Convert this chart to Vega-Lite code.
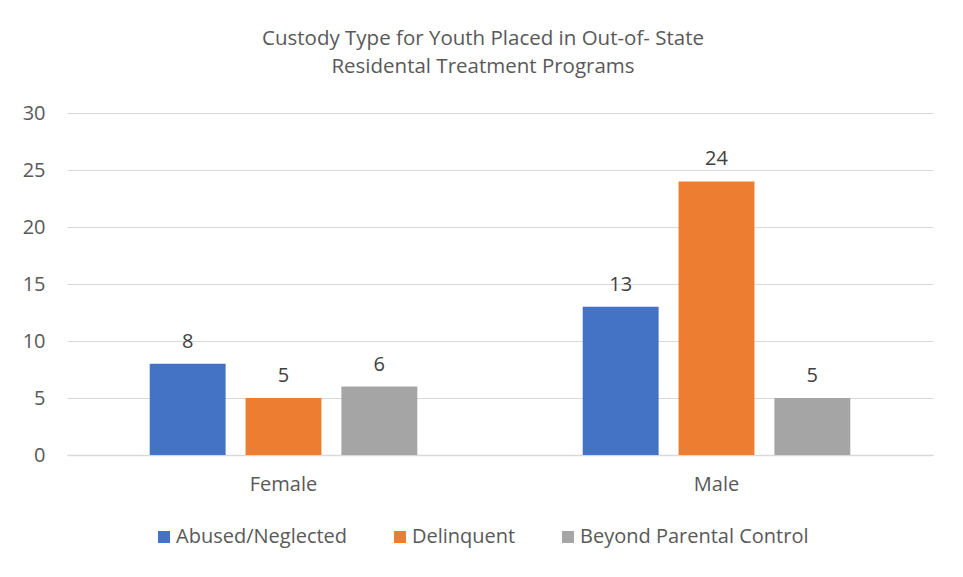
{
  "$schema": "https://vega.github.io/schema/vega-lite/v6.json",
  "width": 866,
  "height": 342,
  "autosize": "none",
  "padding": {"left": 67, "top": 113, "right": 30, "bottom": 122},
  "background": "white",
  "title": {
    "text": ["Custody Type for Youth Placed in Out-of- State", "Residental Treatment Programs"],
    "fontSize": 20.5,
    "fontWeight": "normal",
    "font": "Open Sans",
    "color": "#595959",
    "lineHeight": 28,
    "offset": 26,
    "dx": -17,
    "anchor": "middle"
  },
  "data": {
    "values": [
      {"gender": "Female", "type": "Abused/Neglected", "count": 8},
      {"gender": "Female", "type": "Delinquent", "count": 5},
      {"gender": "Female", "type": "Beyond Parental Control", "count": 6},
      {"gender": "Male", "type": "Abused/Neglected", "count": 13},
      {"gender": "Male", "type": "Delinquent", "count": 24},
      {"gender": "Male", "type": "Beyond Parental Control", "count": 5}
    ]
  },
  "encoding": {
    "x": {
      "field": "gender",
      "type": "nominal",
      "sort": ["Female", "Male"],
      "scale": {"paddingInner": 0.382, "paddingOuter": 0.191},
      "axis": {
        "title": null,
        "labelAngle": 0,
        "ticks": false,
        "domain": true,
        "domainColor": "#d9d9d9",
        "domainWidth": 1.5,
        "labelFont": "Open Sans",
        "labelFontSize": 20,
        "labelColor": "#595959",
        "labelPadding": 19
      }
    },
    "xOffset": {
      "field": "type",
      "type": "nominal",
      "sort": ["Abused/Neglected", "Delinquent", "Beyond Parental Control"],
      "scale": {"paddingInner": 0.208, "paddingOuter": 0}
    },
    "y": {
      "field": "count",
      "type": "quantitative",
      "scale": {"domain": [0, 30]},
      "axis": {
        "title": null,
        "values": [0, 5, 10, 15, 20, 25, 30],
        "ticks": false,
        "domain": false,
        "gridColor": "#d9d9d9",
        "gridWidth": 1.2,
        "labelFont": "Open Sans",
        "labelFontSize": 20,
        "labelColor": "#595959",
        "labelPadding": 22
      }
    }
  },
  "layer": [
    {
      "mark": {"type": "bar"},
      "encoding": {
        "color": {
          "field": "type",
          "type": "nominal",
          "sort": ["Abused/Neglected", "Delinquent", "Beyond Parental Control"],
          "scale": {"domain": ["Abused/Neglected", "Delinquent", "Beyond Parental Control"], "range": ["#4472C4", "#ED7D31", "#A5A5A5"]},
          "legend": {
            "title": null,
            "orient": "none",
            "direction": "horizontal",
            "legendX": 87,
            "legendY": 414,
            "symbolType": "square",
            "symbolSize": 144,
            "symbolStrokeWidth": 0,
            "symbolOpacity": 1,
            "labelFont": "Open Sans",
            "labelFontSize": 20,
            "labelColor": "#595959",
            "labelOffset": 2,
            "labelLimit": 400,
            "columnPadding": 42
          }
        }
      }
    },
    {
      "mark": {"type": "text", "baseline": "alphabetic", "dy": -16, "font": "Open Sans", "fontSize": 20, "color": "#404040"},
      "encoding": {
        "text": {"field": "count", "type": "quantitative"}
      }
    }
  ],
  "config": {
    "view": {"stroke": null}
  }
}
